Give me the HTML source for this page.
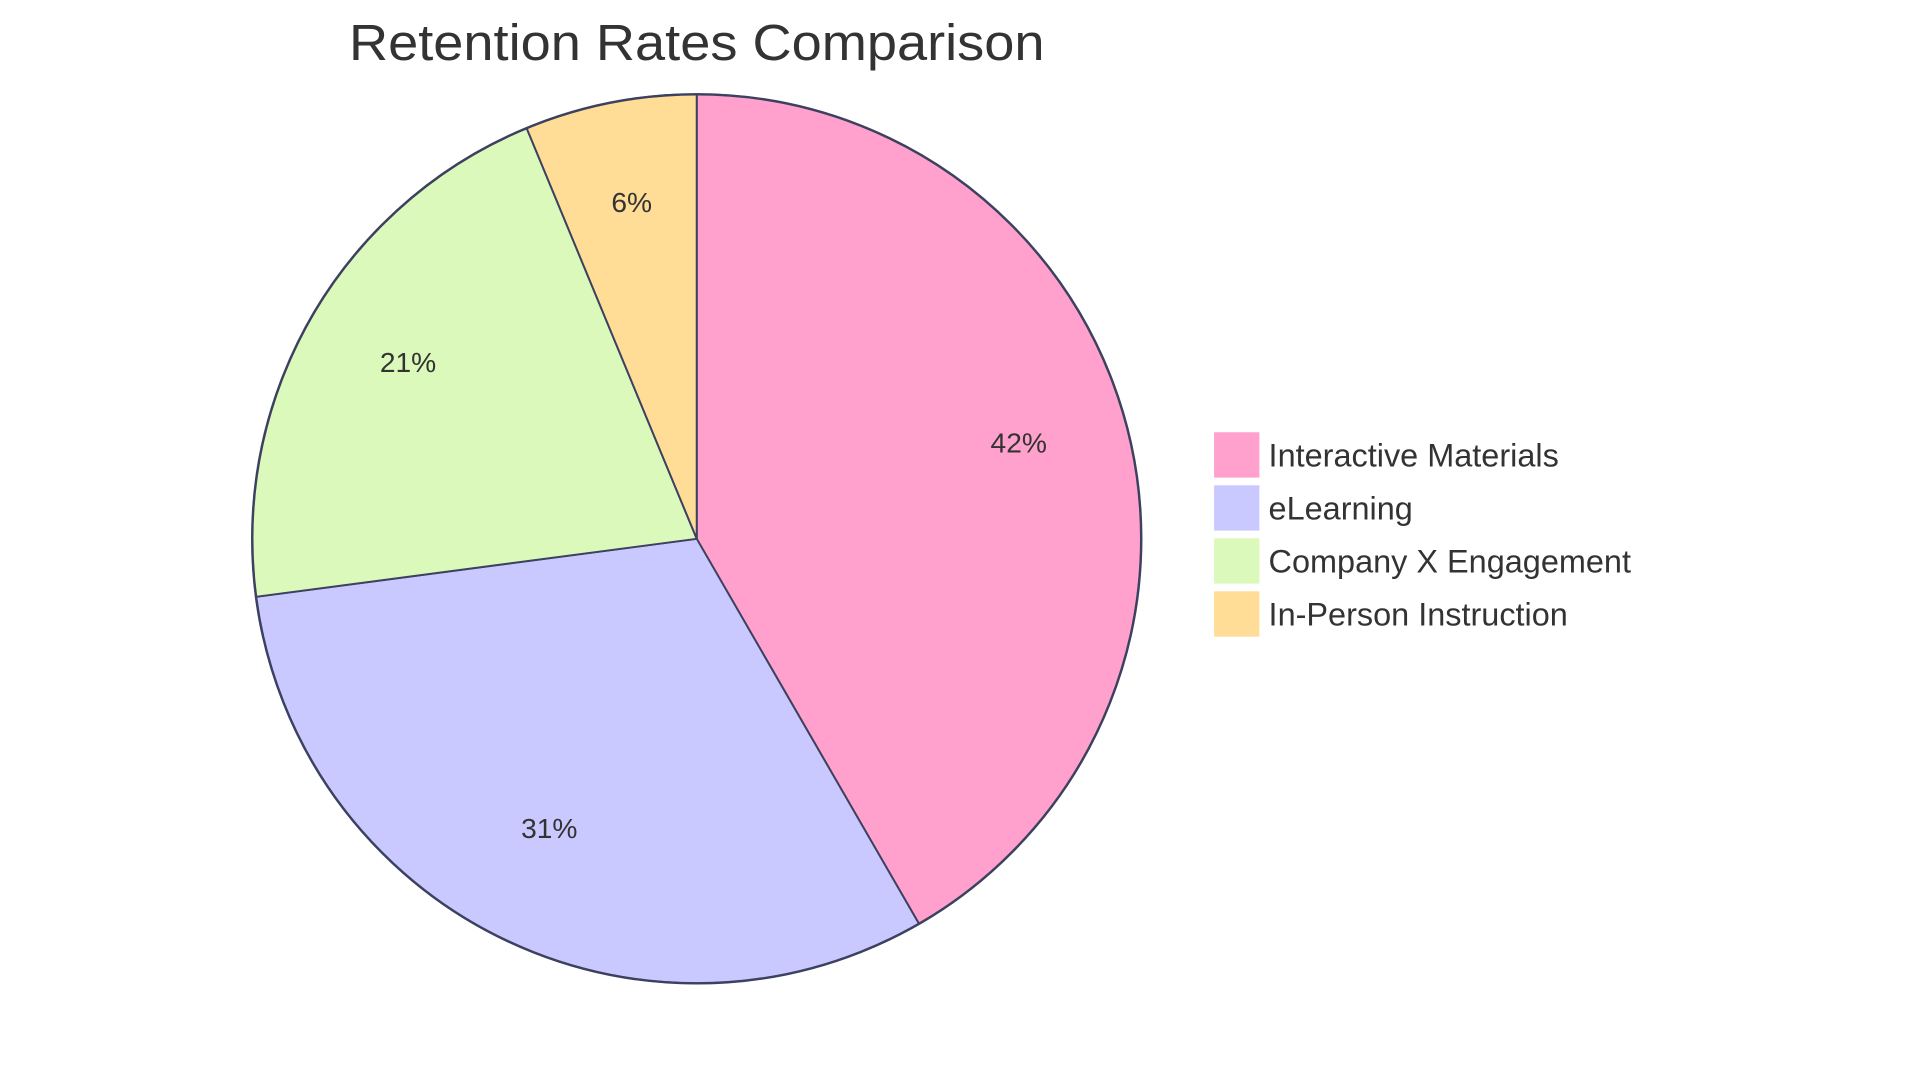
<!DOCTYPE html>
<html><head><meta charset="utf-8"><style>
html,body{margin:0;padding:0;background:#fff;width:1920px;height:1083px;overflow:hidden}
svg{display:block}
text{font-family:"Liberation Sans",sans-serif;fill:#333}
</style></head><body>
<svg id="chart" width="1920" height="1083" viewBox="0 0 1568 884.4" preserveAspectRatio="none" xmlns="http://www.w3.org/2000/svg">
<text x="569" y="49" text-anchor="middle" font-size="42" textLength="568" lengthAdjust="spacingAndGlyphs">Retention Rates Comparison</text>
<g id="slices"></g>
<g id="legend"></g>
</svg>
<script>
const categories=["Interactive Materials","eLearning","Company X Engagement","In-Person Instruction"];
const values=[40,30,20,6];
const colors=["#ffa1cc","#c9c9ff","#dbf9bb","#ffdd96"];
const NS="http://www.w3.org/2000/svg";
const cx=569,cy=440,r=363;
const total=values.reduce((a,b)=>a+b,0);
const sl=document.getElementById('slices');
function pt(a,rad){return [cx+rad*Math.sin(a),cy-rad*Math.cos(a)];}
let a0=0;
values.forEach((v,i)=>{
  const a1=a0+v/total*2*Math.PI;
  const p0=pt(a0,r),p1=pt(a1,r);
  const large=(a1-a0)>Math.PI?1:0;
  const p=document.createElementNS(NS,'path');
  p.setAttribute('d',`M${cx},${cy}L${p0[0]},${p0[1]}A${r},${r} 0 ${large} 1 ${p1[0]},${p1[1]}Z`);
  p.setAttribute('fill',colors[i]);p.setAttribute('stroke','#3d4160');p.setAttribute('stroke-width','1.6');
  
  
  sl.appendChild(p);
  const m=(a0+a1)/2,lp=pt(m,r*0.75);
  const t=document.createElementNS(NS,'text');
  t.setAttribute('x',lp[0]);t.setAttribute('y',lp[1]);t.setAttribute('text-anchor','middle');t.setAttribute('font-size','23');
  t.textContent=Math.round(v/total*100)+'%';
  
  
  sl.appendChild(t);
  a0=a1;
});
const c=document.createElementNS(NS,'circle');
c.setAttribute('cx',cx);c.setAttribute('cy',cy);c.setAttribute('r',r);c.setAttribute('fill','none');c.setAttribute('stroke','#3d4160');c.setAttribute('stroke-width','2');


sl.appendChild(c);
const lg=document.getElementById('legend');
categories.forEach((name,i)=>{
  const y=353+i*43.3;
  const g=document.createElementNS(NS,'g');
  
  
  const rc=document.createElementNS(NS,'rect');
  rc.setAttribute('x',991.5);rc.setAttribute('y',y);rc.setAttribute('width',37);rc.setAttribute('height',37);rc.setAttribute('fill',colors[i]);
  
  
  const t=document.createElementNS(NS,'text');
  t.setAttribute('x',1036);t.setAttribute('y',y+28);t.setAttribute('font-size','26.5');
  t.textContent=name;
  
  
  g.appendChild(rc);g.appendChild(t);lg.appendChild(g);
});
</script>
</body></html>
